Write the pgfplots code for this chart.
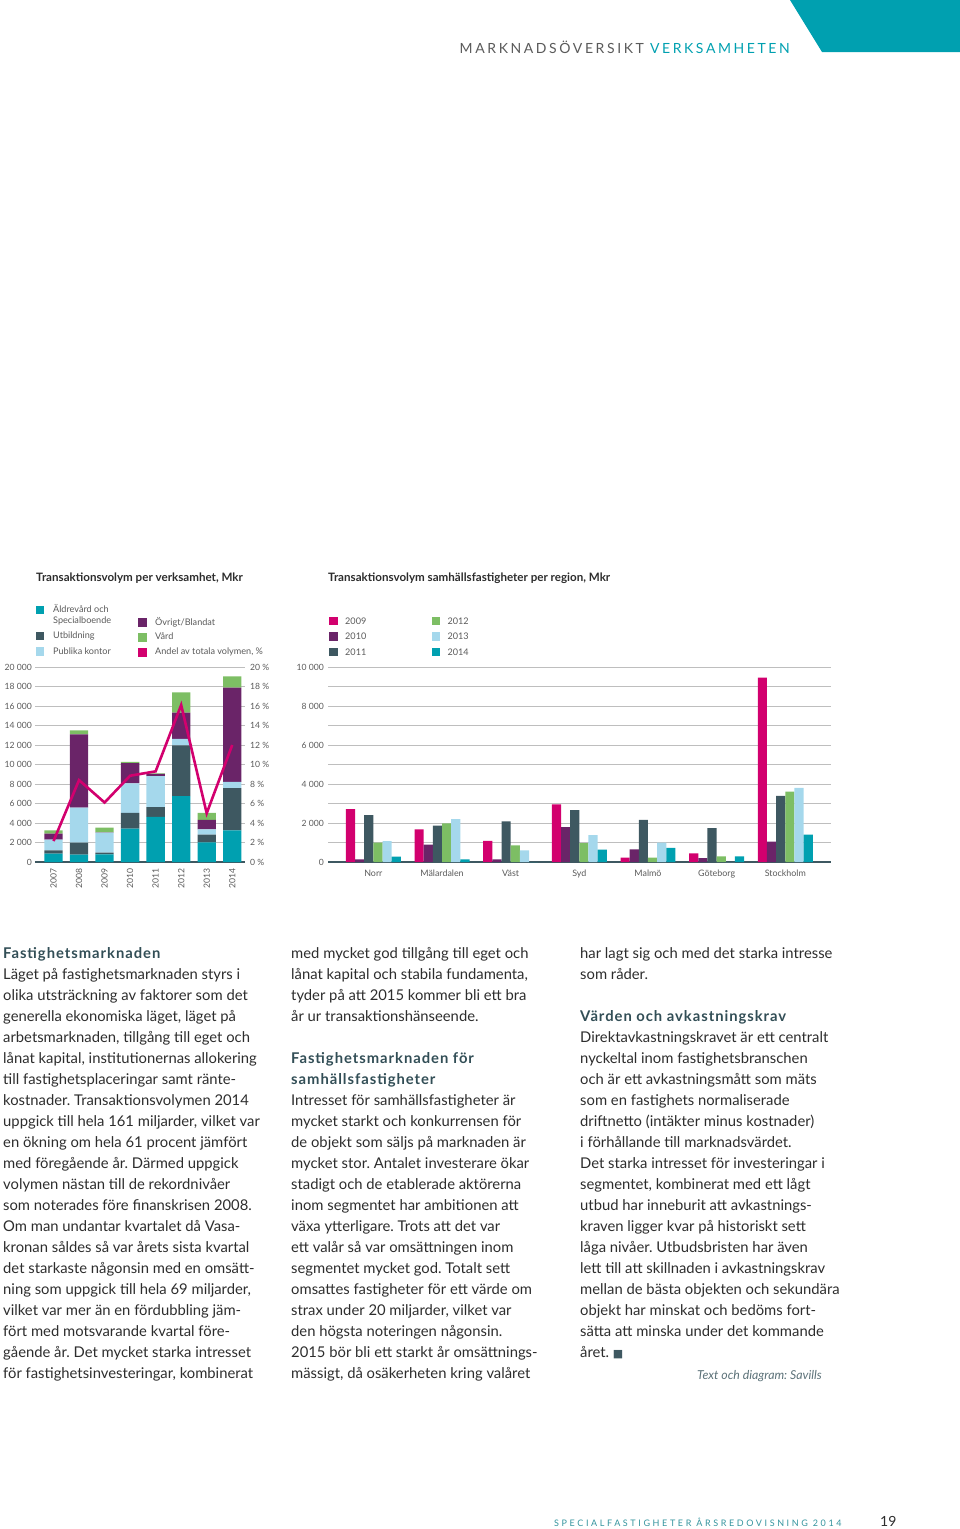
\documentclass[border=0pt]{standalone}
\usepackage{pgfplots}
\pgfplotsset{compat=1.18}
\usepackage{fontspec}
\setmainfont{Lato}
\newfontfamily\symfont{DejaVu Sans}
\frenchspacing
\definecolor{cTeal}{RGB}{0,160,176}
\definecolor{cSlate}{RGB}{62,88,97}
\definecolor{cLight}{RGB}{165,216,236}
\definecolor{cPurple}{RGB}{106,36,104}
\definecolor{cGreen}{RGB}{125,190,100}
\definecolor{cMag}{RGB}{210,0,110}
\definecolor{gridgray}{RGB}{190,190,190}
\definecolor{ticktext}{RGB}{90,90,90}
\definecolor{bodytext}{RGB}{45,45,45}
\definecolor{headtext}{RGB}{50,78,86}
\newcommand\bodyfont{\fontsize{14.8}{21}\selectfont\frenchspacing}
\newcommand\headfont{\fontsize{14.8}{21}\selectfont\bfseries\addfontfeature{LetterSpace=6.5}}
\newcommand\BL[3]{\node[anchor=base west,inner sep=0pt,font=\bodyfont,text=bodytext] at (#1pt,-#2pt) {#3};}
\newcommand\HL[3]{\node[anchor=base west,inner sep=0pt,font=\headfont,text=headtext] at (#1pt,-#2pt) {#3};}
\pgfplotsset{
  pagechart/.style={
    scale only axis, anchor=south west,
    axis line style={draw=none},
    major tick length=0pt,
    scaled y ticks=false, scaled x ticks=false,
    tick label style={font=\fontsize{8.6}{10}\selectfont, text=ticktext},
    ymajorgrids, grid style={gridgray, line width=0.9pt},
  }
}
\begin{document}
\begin{tikzpicture}
\path[use as bounding box] (0pt,0pt) rectangle (960pt,-1529pt);
% header
\fill[cTeal] (790pt,0pt) -- (960pt,0pt) -- (960pt,-52pt) -- (822pt,-52pt) -- cycle;
\node[anchor=base east,inner sep=0pt,font=\fontsize{14}{14}\selectfont\addfontfeature{LetterSpace=18.5}] at (790pt,-53pt)
  {\textcolor{ticktext}{MARKNADSÖVERSIKT} \textcolor{cTeal}{VERKSAMHETEN}};
% chart titles
\node[anchor=base west,inner sep=0pt,font=\fontsize{11.6}{13}\selectfont\bfseries,text=bodytext] at (36pt,-581pt) {Transaktionsvolym per verksamhet, Mkr};
\node[anchor=base west,inner sep=0pt,font=\fontsize{11.6}{13}\selectfont\bfseries,text=bodytext] at (328pt,-581pt) {Transaktionsvolym samhällsfastigheter per region, Mkr};
% legends
\begin{scope}[every node/.style={anchor=base west,inner sep=0pt,font=\fontsize{9.1}{10.6}\selectfont,text=ticktext}]
\fill[cTeal] (36pt,-605.7pt) rectangle ++(8.4pt,-8.4pt);
\node at (53pt,-612.7pt) {Äldrevård och};
\node at (53pt,-623.3pt) {Specialboende};
\fill[cSlate] (36pt,-631.7pt) rectangle ++(8.4pt,-8.4pt);
\node at (53pt,-638.3pt) {Utbildning};
\fill[cLight] (36pt,-647.3pt) rectangle ++(8.4pt,-8.4pt);
\node at (53pt,-654pt) {Publika kontor};
\fill[cPurple] (138.3pt,-618.3pt) rectangle ++(8.4pt,-8.4pt);
\node at (155pt,-625pt) {Övrigt/Blandat};
\fill[cGreen] (138.3pt,-633.3pt) rectangle ++(8.4pt,-8.4pt);
\node at (155pt,-639.5pt) {Vård};
\fill[cMag] (138.3pt,-648.3pt) rectangle ++(8.4pt,-8.4pt);
\node at (155pt,-654.3pt) {Andel av totala volymen, \%};
\fill[cMag] (329.3pt,-616.7pt) rectangle ++(8.4pt,-8.4pt);
\node at (345pt,-624pt) {2009};
\fill[cPurple] (329.3pt,-632.3pt) rectangle ++(8.4pt,-8.4pt);
\node at (345pt,-639.7pt) {2010};
\fill[cSlate] (329.3pt,-647.7pt) rectangle ++(8.4pt,-8.4pt);
\node at (345pt,-655pt) {2011};
\fill[cGreen] (431.7pt,-616.7pt) rectangle ++(8.4pt,-8.4pt);
\node at (447.3pt,-624pt) {2012};
\fill[cLight] (431.7pt,-632.3pt) rectangle ++(8.4pt,-8.4pt);
\node at (447.3pt,-639.7pt) {2013};
\fill[cTeal] (431.7pt,-647.7pt) rectangle ++(8.4pt,-8.4pt);
\node at (447.3pt,-655pt) {2014};
\end{scope}

% left chart: stacked bars
\begin{axis}[pagechart, at={(35pt,-862pt)}, width=210pt, height=195pt,
  xmin=-0.725, xmax=7.5, ymin=0, ymax=20000,
  ybar stacked, bar width=18.3pt,
  ytick={0,2000,...,20000},
  yticklabels={0,2 000,4 000,6 000,8 000,10 000,12 000,14 000,16 000,18 000,20 000},
  yticklabel style={anchor=east,inner sep=0pt,xshift=-3pt},
  xtick={0,...,7},
  xticklabels={2007,2008,2009,2010,2011,2012,2013,2014},
  xticklabel style={rotate=90,anchor=east,inner xsep=6pt,inner ysep=0pt},
  extra y ticks={0}, extra y tick labels={},
  extra y tick style={grid style={cSlate,line width=1.6pt}},
]
\addplot[fill=cTeal,draw=none] coordinates {(0,850) (1,750) (2,790) (3,3420) (4,4620) (5,6770) (6,2020) (7,3250)};
\addplot[fill=cSlate,draw=none] coordinates {(0,350) (1,1230) (2,170) (3,1610) (4,1020) (5,5200) (6,780) (7,4340)};
\addplot[fill=cLight,draw=none] coordinates {(0,1100) (1,3590) (2,2050) (3,3040) (4,3180) (5,650) (6,550) (7,620)};
\addplot[fill=cPurple,draw=none] coordinates {(0,600) (1,7520) (2,30) (3,2080) (4,210) (5,2700) (6,960) (7,9670)};
\addplot[fill=cGreen,draw=none] coordinates {(0,350) (1,410) (2,480) (3,110) (4,60) (5,2080) (6,720) (7,1160)};
\end{axis}
% left chart: share line
\begin{axis}[pagechart, at={(35pt,-862pt)}, width=210pt, height=195pt,
  xmin=-0.725, xmax=7.5, ymin=0, ymax=20,
  ymajorgrids=false,
  axis x line=none, axis y line*=right, y axis line style={draw=none},
  ytick={0,2,...,20},
  yticklabels={0 \%,2 \%,4 \%,6 \%,8 \%,10 \%,12 \%,14 \%,16 \%,18 \%,20 \%},
  yticklabel style={anchor=west,inner sep=0pt,xshift=5pt},
]
\addplot[cMag, line width=2.6pt, mark=none] coordinates {(0,2.15) (1,8.4) (2,6.1) (3,8.85) (4,9.3) (5,16.1) (6,5.0) (7,12.0)};
\end{axis}

% right chart
\begin{axis}[pagechart, at={(328pt,-862pt)}, width=503pt, height=195pt,
  xmin=-0.661, xmax=6.666, ymin=0, ymax=10000,
  ybar=0pt, bar width=9.16pt,
  ytick={0,1000,...,10000},
  yticklabels={0,,2 000,,4 000,,6 000,,8 000,,10 000},
  yticklabel style={anchor=east,inner sep=0pt,xshift=-4pt},
  xtick={0,...,6},
  xticklabels={Norr,Mälardalen,Väst,Syd,Malmö,Göteborg,Stockholm},
  xticklabel style={anchor=base,inner sep=0pt,yshift=-14pt,font=\fontsize{8.9}{10}\selectfont},
  extra y ticks={0}, extra y tick labels={},
  extra y tick style={grid style={cSlate,line width=1.6pt}},
]
\addplot[fill=cMag,draw=none] coordinates {(0,2710) (1,1670) (2,1090) (3,2950) (4,220) (5,440) (6,9450)};
\addplot[fill=cPurple,draw=none] coordinates {(0,140) (1,890) (2,140) (3,1790) (4,650) (5,200) (6,1040)};
\addplot[fill=cSlate,draw=none] coordinates {(0,2400) (1,1860) (2,2080) (3,2660) (4,2160) (5,1740) (6,3390)};
\addplot[fill=cGreen,draw=none] coordinates {(0,1000) (1,1980) (2,850) (3,970) (4,220) (5,290) (6,3610)};
\addplot[fill=cLight,draw=none] coordinates {(0,1070) (1,2200) (2,600) (3,1380) (4,1000) (5,0) (6,3800)};
\addplot[fill=cTeal,draw=none] coordinates {(0,270) (1,140) (2,0) (3,630) (4,730) (5,290) (6,1400)};
\end{axis}

% body text column 1
\HL{3}{958}{Fastighetsmarknaden}
\BL{3}{979}{Läget på fastighetsmarknaden styrs i}
\BL{3}{1000}{olika utsträckning av faktorer som det}
\BL{3}{1021}{generella ekonomiska läget, läget på}
\BL{3}{1042}{arbetsmarknaden, tillgång till eget och}
\BL{3}{1063}{lånat kapital, institutionernas allokering}
\BL{3}{1084}{till fastighetsplaceringar samt ränte-}
\BL{3}{1105}{kostnader. Transaktionsvolymen 2014}
\BL{3}{1126}{uppgick till hela 161 miljarder, vilket var}
\BL{3}{1147}{en ökning om hela 61 procent jämfört}
\BL{3}{1168}{med föregående år. Därmed uppgick}
\BL{3}{1189}{volymen nästan till de rekordnivåer}
\BL{3}{1210}{som noterades före finanskrisen 2008.}
\BL{3}{1231}{Om man undantar kvartalet då Vasa-}
\BL{3}{1252}{kronan såldes så var årets sista kvartal}
\BL{3}{1273}{det starkaste någonsin med en omsätt-}
\BL{3}{1294}{ning som uppgick till hela 69 miljarder,}
\BL{3}{1315}{vilket var mer än en fördubbling jäm-}
\BL{3}{1336}{fört med motsvarande kvartal före-}
\BL{3}{1357}{gående år. Det mycket starka intresset}
\BL{3}{1378}{för fastighetsinvesteringar, kombinerat}
% column 2
\BL{291}{958}{med mycket god tillgång till eget och}
\BL{291}{979}{lånat kapital och stabila fundamenta,}
\BL{291}{1000}{tyder på att 2015 kommer bli ett bra}
\BL{291}{1021}{år ur transaktionshänseende.}
\HL{291}{1063}{Fastighetsmarknaden för}
\HL{291}{1084}{samhällsfastigheter}
\BL{291}{1105}{Intresset för samhällsfastigheter är}
\BL{291}{1126}{mycket starkt och konkurrensen för}
\BL{291}{1147}{de objekt som säljs på marknaden är}
\BL{291}{1168}{mycket stor. Antalet investerare ökar}
\BL{291}{1189}{stadigt och de etablerade aktörerna}
\BL{291}{1210}{inom segmentet har ambitionen att}
\BL{291}{1231}{växa ytterligare. Trots att det var}
\BL{291}{1252}{ett valår så var omsättningen inom}
\BL{291}{1273}{segmentet mycket god. Totalt sett}
\BL{291}{1294}{omsattes fastigheter för ett värde om}
\BL{291}{1315}{strax under 20 miljarder, vilket var}
\BL{291}{1336}{den högsta noteringen någonsin.}
\BL{291}{1357}{2015 bör bli ett starkt år omsättnings-}
\BL{291}{1378}{mässigt, då osäkerheten kring valåret}
% column 3
\BL{580}{958}{har lagt sig och med det starka intresse}
\BL{580}{979}{som råder.}
\HL{580}{1021}{Värden och avkastningskrav}
\BL{580}{1042}{Direktavkastningskravet är ett centralt}
\BL{580}{1063}{nyckeltal inom fastighetsbranschen}
\BL{580}{1084}{och är ett avkastningsmått som mäts}
\BL{580}{1105}{som en fastighets normaliserade}
\BL{580}{1126}{driftnetto (intäkter minus kostnader)}
\BL{580}{1147}{i förhållande till marknadsvärdet.}
\BL{580}{1168}{Det starka intresset för investeringar i}
\BL{580}{1189}{segmentet, kombinerat med ett lågt}
\BL{580}{1210}{utbud har inneburit att avkastnings-}
\BL{580}{1231}{kraven ligger kvar på historiskt sett}
\BL{580}{1252}{låga nivåer. Utbudsbristen har även}
\BL{580}{1273}{lett till att skillnaden i avkastningskrav}
\BL{580}{1294}{mellan de bästa objekten och sekundära}
\BL{580}{1315}{objekt har minskat och bedöms fort-}
\BL{580}{1336}{sätta att minska under det kommande}
\BL{580}{1357}{året. {\symfont\fontsize{11}{11}\selectfont\textcolor{cSlate}{■}}}
\node[anchor=base east,inner sep=0pt,font=\fontsize{12.3}{14}\selectfont\itshape,text=headtext!80] at (822pt,-1379pt) {Text och diagram: Savills};
% footer
\node[anchor=base west,inner sep=0pt,font=\fontsize{9}{10}\selectfont\addfontfeature{LetterSpace=29},text=cTeal!60!gray] at (554pt,-1526pt) {SPECIALFASTIGHETER ÅRSREDOVISNING 2014};
\node[anchor=base west,inner sep=0pt,font=\fontsize{14}{14}\selectfont,text=bodytext] at (880pt,-1526pt) {19};
\end{tikzpicture}
\end{document}
